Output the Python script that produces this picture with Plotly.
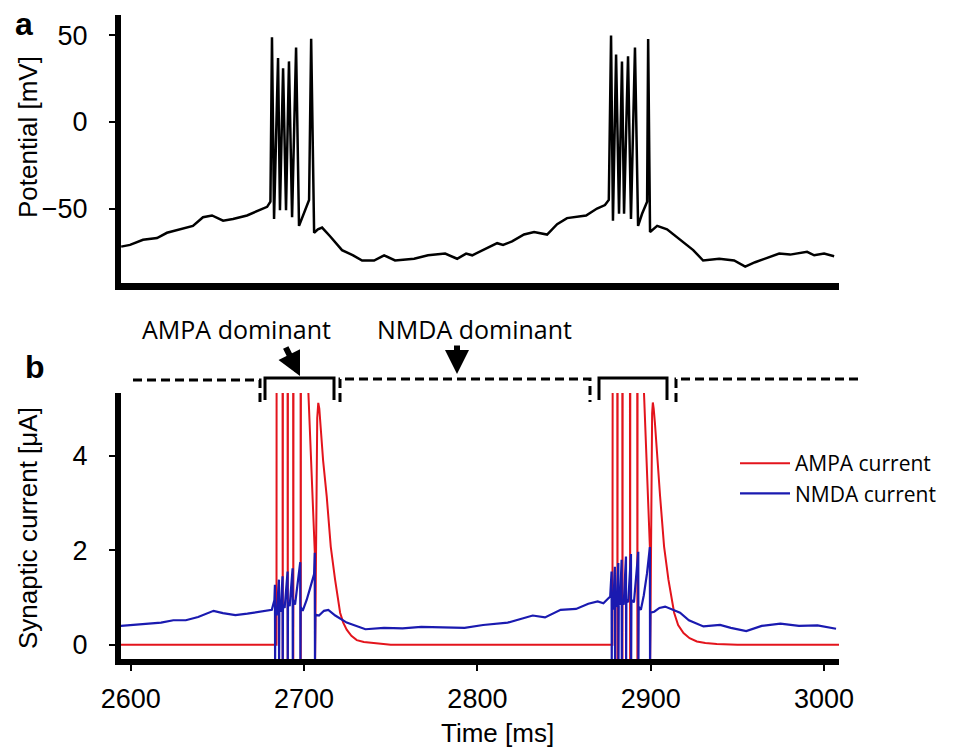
import plotly.graph_objects as go

# ---------------- data ----------------
# (a) membrane potential
v_time = [2594.5, 2599.6, 2607.1, 2615.2, 2620.9, 2628.4, 2635.9, 2641.7, 2646.9, 2653.3,
          2659.0, 2667.1, 2674.6, 2678.7, 2680.6, 2681.5, 2682.7, 2685.0, 2686.1, 2687.9,
          2689.6, 2691.3, 2693.1, 2695.4, 2697.1, 2699.5, 2702.9, 2704.1, 2705.8, 2708.0,
          2710.4, 2715.0, 2721.9, 2728.3, 2733.5, 2740.4, 2746.2, 2752.5, 2763.5, 2771.5,
          2781.4, 2788.3, 2793.5, 2797.0, 2805.0, 2811.4, 2814.8, 2820.0, 2826.9, 2832.7,
          2840.2, 2846.0, 2851.7, 2862.7, 2869.0, 2873.6, 2875.8, 2877.1, 2878.2, 2880.0,
          2881.7, 2883.4, 2884.6, 2886.9, 2888.6, 2890.9, 2892.7, 2895.0, 2897.9, 2898.5,
          2899.6, 2903.7, 2909.4, 2916.9, 2924.5, 2930.2, 2939.5, 2948.1, 2954.5, 2960.2,
          2966.6, 2974.1, 2980.4, 2990.2, 2994.3, 3000.0, 3005.8]
v_mv = [-72, -71, -68, -67, -64, -62, -60, -55, -54, -57,
        -56, -54, -51, -49, -46, 49, -56, 37, -51, 31,
        -51, 35, -55, 43, -60, -54, -45, 48, -64, -62,
        -61, -66, -74, -77, -80, -80, -77, -80, -79, -77,
        -76, -79, -76, -77, -73, -70, -71, -69, -65, -63.5,
        -65, -59, -55.5, -54, -50, -48, -45, 50, -57, 39,
        -53, 35, -53, 38, -56, 43, -60, -53, -46, 48,
        -63.5, -60, -62, -68, -74, -80, -79, -80, -83.5, -81,
        -78.6, -76, -76.6, -75, -77, -76, -77.5]

# (b) AMPA synaptic current
ampa_time = [2594, 2684.1, 2684.2,
             2687.55, 2687.7, 2687.85, 2690.45, 2690.6, 2690.75,
             2693.65, 2693.8, 2693.95, 2697.95, 2698.1, 2698.25,
             2702.5, 2704.5, 2706.2, 2706.35, 2707.0, 2707.6, 2708.2, 2708.8,
             2709.6, 2711.0, 2713.1, 2715.4, 2717.9, 2720.8, 2722.6, 2724.6, 2727.3,
             2730.4, 2734.5, 2739.8, 2750,
             2877.9, 2878.1,
             2880.65, 2880.8, 2880.95, 2883.55, 2883.7, 2883.85,
             2887.95, 2888.1, 2888.25, 2892.15, 2892.3, 2892.45,
             2896.1, 2898.0, 2899.5, 2899.65, 2900.3, 2900.8, 2901.2, 2901.7,
             2902.4, 2903.7, 2905.4, 2907.7, 2910.2, 2913.5, 2915.8, 2918.9, 2922.4,
             2926.6, 2931.5, 2938.1, 2950, 3009]
ampa_ua = [0, 0, 9,
           9, -0.4, 9, 9, -0.4, 9,
           9, -0.4, 9, 9, -0.4, 9,
           5.33, 3.4, 1.95, -0.4, 3.6, 4.8, 5.12, 5.0,
           4.6, 3.9, 3.13, 2.08, 1.38, 0.68, 0.47, 0.32, 0.19,
           0.10, 0.06, 0.04, 0.0,
           0, 9,
           9, -0.4, 9, 9, -0.4, 9,
           9, -0.4, 9, 9, -0.4, 9,
           5.33, 3.4, 2.07, -0.4, 4.0, 4.9, 5.13, 5.0,
           4.7, 4.0, 3.14, 2.08, 1.38, 0.68, 0.42, 0.25, 0.14,
           0.07, 0.04, 0.02, 0, 0]

# (b) NMDA synaptic current
nmda_time = [2594.2, 2606.8, 2617.5, 2624.6, 2631.8, 2638.9, 2647.8, 2653.2, 2660.4, 2667.3,
             2681.4, 2682.9, 2683.2, 2683.3, 2683.45, 2684.2, 2685.5, 2685.6, 2685.75, 2686.4,
             2687.6, 2687.7, 2687.85, 2688.8, 2690.5, 2690.6, 2690.75, 2691.7, 2693.4, 2693.5,
             2693.65, 2694.8, 2697.8, 2697.9, 2698.05, 2699.2, 2701.5, 2703.5, 2705.8, 2706.2,
             2706.3, 2706.5, 2708.6, 2711.5, 2714.0, 2718.0, 2724.6, 2735.4, 2746.1, 2756.8,
             2767.6, 2781.8, 2792.6, 2803.3, 2817.5, 2831.9, 2839.0, 2848.0, 2856.9, 2864.0,
             2869.4, 2872.7, 2876.6, 2877.4, 2877.5, 2877.65, 2878.3, 2879.3, 2879.4, 2879.55,
             2880.2, 2881.3, 2881.4, 2881.55, 2882.2, 2883.2, 2883.3, 2883.45, 2884.4, 2885.7,
             2885.8, 2885.95, 2887.0, 2888.6, 2888.7, 2888.85, 2890.3, 2892.8, 2892.9, 2893.05,
             2894.3, 2896.0, 2897.8, 2899.5, 2899.6, 2899.8, 2902.0, 2905.0, 2908.3, 2912.0,
             2916.9, 2922.0, 2930.4, 2940.0, 2946.2, 2955.1, 2964.0, 2974.8, 2985.5, 2996.2,
             3006.9]
nmda_ua = [0.40, 0.44, 0.47, 0.52, 0.52, 0.59, 0.72, 0.67, 0.63, 0.66,
           0.74, 0.95, 1.27, -0.4, 0.75, 0.62, 1.38, -0.4, 0.80, 0.70,
           1.45, -0.4, 0.85, 0.78, 1.55, -0.4, 0.90, 0.82, 1.62, -0.4,
           0.95, 0.85, 1.75, -0.4, 0.80, 0.72, 0.95, 1.20, 1.50, 1.95,
           -0.4, 0.64, 0.62, 0.72, 0.74, 0.62, 0.47, 0.33, 0.36, 0.35,
           0.38, 0.36, 0.36, 0.42, 0.47, 0.62, 0.58, 0.74, 0.76, 0.87,
           0.92, 0.88, 1.02, 1.55, -0.4, 0.80, 0.75, 1.65, -0.4, 0.85,
           0.80, 1.73, -0.4, 0.90, 0.85, 1.80, -0.4, 0.90, 0.85, 1.87,
           -0.4, 0.95, 0.90, 1.92, -0.4, 0.95, 0.90, 1.97, -0.4, 0.80,
           0.74, 1.05, 1.50, 2.07, -0.4, 0.68, 0.70, 0.78, 0.81, 0.76,
           0.68, 0.52, 0.39, 0.42, 0.36, 0.29, 0.40, 0.45, 0.40, 0.41,
           0.34]

time_ticks = [2600, 2700, 2800, 2900, 3000]
mv_ticks = [-50, 0, 50]
ua_ticks = [0, 2, 4]

# ---------------- figure ----------------
W, H = 971, 751
L, T = 121, 15
PW, PH = 718, 644
R, B = W - L - PW, H - T - PH


def px(x):
    return (x - L) / PW


def py(y):
    return (T + PH - y) / PH


fig = go.Figure()
fig.add_trace(go.Scatter(x=v_time, y=v_mv, mode="lines", line=dict(color="black", width=2.5),
                         xaxis="x2", yaxis="y2", showlegend=False, name="Potential"))
fig.add_trace(go.Scatter(x=ampa_time, y=ampa_ua, mode="lines", line=dict(color="#e3141c", width=2),
                         name="AMPA current"))
fig.add_trace(go.Scatter(x=nmda_time, y=nmda_ua, mode="lines", line=dict(color="#1a1ab0", width=2.2),
                         name="NMDA current"))

tickfont = dict(family="Liberation Sans, Arial, sans-serif", size=27, color="black")
axis_common = dict(showline=True, linecolor="black", showgrid=False, zeroline=False,
                   ticks="outside", ticklen=6, tickwidth=1.5, tickcolor="black", tickfont=tickfont)

xr = [2594.4, 3008.6]
fig.update_layout(
    width=W, height=H,
    margin=dict(l=L, r=R, t=T, b=B),
    paper_bgcolor="white", plot_bgcolor="white",
    xaxis=dict(domain=[0, 1], range=xr, tickvals=time_ticks, linewidth=6, anchor="y",
               ticklabelstandoff=5, **axis_common),
    yaxis=dict(domain=[0, py(393)], range=[-0.30, 5.33], tickvals=ua_ticks, linewidth=6,
               anchor="x", ticklabelstandoff=16, **axis_common),
    xaxis2=dict(domain=[0, 1], range=xr, showline=True, linecolor="black", linewidth=7,
                showgrid=False, zeroline=False, showticklabels=False, ticks="", anchor="y2"),
    yaxis2=dict(domain=[py(283), 1], range=[-93, 61.8], tickvals=mv_ticks, linewidth=6,
                anchor="x2", ticklabelstandoff=16, **axis_common),
    legend=dict(x=px(735), y=py(443), xanchor="left", yanchor="top", bgcolor="rgba(0,0,0,0)",
                font=dict(family="Open Sans, sans-serif", size=21, color="black"),
                itemwidth=50, tracegroupgap=0),
    showlegend=True,
)

lab_font = dict(family="Liberation Sans, Arial, sans-serif", size=26, color="black")
ann = [
    dict(text="Potential [mV]", x=px(28), y=py(137), textangle=-90, font=lab_font),
    dict(text="Synaptic current [μA]", x=px(28), y=py(528), textangle=-90, font=lab_font),
    dict(text="Time [ms]", x=px(497), y=py(733), font=lab_font),
    dict(text="<b>a</b>", x=px(24), y=py(24), font=dict(family="Liberation Sans, Arial", size=32, color="black")),
    dict(text="<b>b</b>", x=px(35), y=py(367), font=dict(family="Liberation Sans, Arial", size=32, color="black")),
    dict(text="AMPA dominant", x=px(236), y=py(329), font=dict(family="Open Sans, sans-serif", size=25, color="black")),
    dict(text="NMDA dominant", x=px(474), y=py(329), font=dict(family="Open Sans, sans-serif", size=25, color="black")),
]
for a in ann:
    a.update(xref="paper", yref="paper", showarrow=False, xanchor="center", yanchor="middle")
    fig.add_annotation(**a)

# arrows
for tip, (axo, ayo) in [((300, 376), (-15, -30)), ((457, 374), (0, -30))]:
    fig.add_annotation(x=px(tip[0]), y=py(tip[1]), xref="paper", yref="paper", text="",
                       showarrow=True, arrowhead=2, arrowsize=0.8, arrowwidth=6, arrowcolor="black",
                       ax=axo, ay=ayo)

# brackets
dash = dict(color="black", width=3, dash="9px,5px")
solid = dict(color="black", width=3)


def path(pts):
    s = "M%.5f,%.5f" % (px(pts[0][0]), py(pts[0][1]))
    for p in pts[1:]:
        s += " L%.5f,%.5f" % (px(p[0]), py(p[1]))
    return s


for pts, ln in [
    ([(133, 380), (260, 380), (260, 402)], dash),
    ([(265, 400), (265, 378), (334, 378), (334, 400)], solid),
    ([(340, 402), (340, 379), (590, 379), (590, 402)], dash),
    ([(599, 400), (599, 378), (667, 378), (667, 400)], solid),
    ([(676, 402), (676, 379), (859, 379)], dash),
]:
    fig.add_shape(type="path", path=path(pts), xref="paper", yref="paper", line=ln)

# remove the browser's default 8px body margin so the figure fills the window
fig.write_html("out.html", config={"displayModeBar": False},
               post_script="document.body.style.margin='0';")
